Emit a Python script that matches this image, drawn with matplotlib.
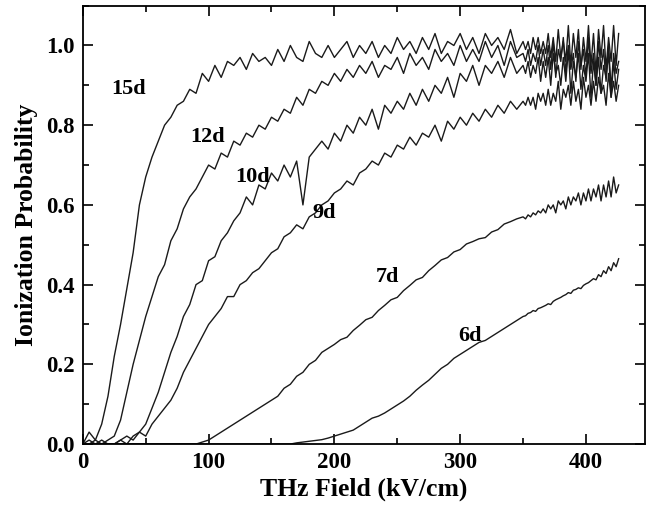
import numpy as np
import matplotlib
matplotlib.use('Agg')
import matplotlib.pyplot as plt
from matplotlib.ticker import MultipleLocator, FormatStrFormatter

plt.rcParams['font.family'] = ['Liberation Serif', 'DejaVu Serif']
plt.rcParams['font.weight'] = 'bold'

# THz field (kV/cm): 5 kV/cm steps up to 345, then 2 kV/cm steps (noisy tail)
field_main = np.arange(0, 350, 5)
field_tail = np.arange(350, 428, 2)

# ionization probability
p15_main = [0.00, 0.03, 0.01, 0.05, 0.12, 0.22, 0.30, 0.39, 0.48, 0.60,
            0.67, 0.72, 0.76, 0.80, 0.82, 0.85, 0.86, 0.89, 0.88, 0.93,
            0.91, 0.95, 0.92, 0.96, 0.95, 0.97, 0.94, 0.98, 0.96, 0.97,
            0.95, 0.99, 0.96, 1.00, 0.97, 0.96, 1.01, 0.98, 0.97, 1.00,
            0.97, 0.99, 1.01, 0.97, 1.00, 0.98, 1.01, 0.97, 1.00, 0.98,
            1.02, 0.99, 1.01, 0.98, 1.02, 0.99, 1.03, 0.98, 1.01, 1.00,
            1.03, 0.99, 1.02, 0.98, 1.03, 1.00, 1.02, 0.99, 1.04, 0.98]
p15_tail = [1.01, 0.99, 1.01, 0.98, 1.02, 0.99, 1.02, 0.98, 1.01, 0.98,
            1.03, 0.97, 1.02, 0.96, 1.04, 0.97, 1.01, 0.96, 1.05, 0.95,
            1.03, 0.97, 1.04, 0.94, 1.02, 0.96, 1.05, 0.95, 1.03, 0.93,
            1.04, 0.97, 1.05, 0.94, 1.02, 0.96, 1.05, 0.95, 1.03]

p12_main = [0.00, 0.01, 0.00, 0.00, 0.01, 0.02, 0.06, 0.13, 0.20, 0.26,
            0.32, 0.37, 0.42, 0.45, 0.51, 0.54, 0.59, 0.62, 0.64, 0.67,
            0.70, 0.69, 0.73, 0.72, 0.76, 0.75, 0.78, 0.77, 0.80, 0.79,
            0.82, 0.81, 0.84, 0.83, 0.87, 0.85, 0.89, 0.88, 0.91, 0.90,
            0.93, 0.91, 0.94, 0.92, 0.95, 0.93, 0.96, 0.92, 0.95, 0.94,
            0.97, 0.93, 0.98, 0.95, 0.97, 0.94, 0.99, 0.96, 0.98, 0.95,
            1.00, 0.96, 0.99, 0.96, 1.01, 0.97, 1.00, 0.95, 1.01, 0.97]
p12_tail = [0.98, 0.96, 0.99, 0.95, 0.98, 0.96, 1.00, 0.95, 0.99, 0.95,
            1.00, 0.94, 1.01, 0.92, 0.99, 0.96, 1.02, 0.93, 1.00, 0.94,
            0.98, 0.91, 1.01, 0.95, 0.99, 0.92, 1.02, 0.93, 0.98, 0.90,
            1.01, 0.94, 0.99, 0.91, 1.00, 0.89, 0.98, 0.93, 0.96]

p10_main = [0.00, 0.00, 0.01, 0.00, 0.00, 0.00, 0.01, 0.00, 0.02, 0.03,
            0.05, 0.09, 0.13, 0.18, 0.23, 0.27, 0.32, 0.35, 0.40, 0.41,
            0.46, 0.47, 0.51, 0.53, 0.56, 0.58, 0.62, 0.60, 0.65, 0.64,
            0.68, 0.66, 0.70, 0.67, 0.71, 0.60, 0.72, 0.74, 0.76, 0.74,
            0.78, 0.76, 0.80, 0.78, 0.82, 0.80, 0.84, 0.79, 0.85, 0.83,
            0.86, 0.84, 0.88, 0.85, 0.89, 0.86, 0.90, 0.88, 0.92, 0.87,
            0.93, 0.91, 0.95, 0.90, 0.95, 0.93, 0.96, 0.92, 0.97, 0.93]
p10_tail = [0.95, 0.93, 0.96, 0.92, 0.95, 0.93, 0.97, 0.91, 0.96, 0.92,
            0.97, 0.90, 0.98, 0.93, 0.95, 0.90, 0.97, 0.91, 0.99, 0.88,
            0.96, 0.92, 0.98, 0.89, 0.95, 0.91, 0.98, 0.87, 0.96, 0.90,
            0.97, 0.88, 0.95, 0.92, 0.98, 0.87, 0.96, 0.89, 0.94]

p9_main = [0.00, 0.00, 0.00, 0.01, 0.00, 0.00, 0.01, 0.02, 0.01, 0.03,
           0.02, 0.05, 0.07, 0.09, 0.11, 0.14, 0.18, 0.21, 0.24, 0.27,
           0.30, 0.32, 0.34, 0.37, 0.37, 0.40, 0.41, 0.43, 0.44, 0.46,
           0.48, 0.49, 0.52, 0.53, 0.55, 0.54, 0.57, 0.58, 0.60, 0.61,
           0.63, 0.64, 0.66, 0.65, 0.68, 0.69, 0.71, 0.70, 0.73, 0.72,
           0.75, 0.74, 0.77, 0.75, 0.78, 0.77, 0.80, 0.76, 0.81, 0.79,
           0.82, 0.80, 0.83, 0.81, 0.84, 0.82, 0.85, 0.83, 0.86, 0.84]
p9_tail = [0.86, 0.85, 0.87, 0.85, 0.87, 0.84, 0.88, 0.86, 0.88, 0.85,
           0.89, 0.85, 0.88, 0.86, 0.91, 0.84, 0.89, 0.87, 0.90, 0.85,
           0.91, 0.86, 0.89, 0.84, 0.92, 0.87, 0.90, 0.85, 0.91, 0.86,
           0.92, 0.88, 0.90, 0.85, 0.93, 0.87, 0.91, 0.86, 0.90]

p7_main = [0.000] * 19 + [
           0.005,
           0.010, 0.020, 0.030, 0.040, 0.050, 0.060, 0.070, 0.080, 0.090, 0.100,
           0.110, 0.120, 0.140, 0.150, 0.170, 0.180, 0.200, 0.210, 0.230, 0.240,
           0.250, 0.262, 0.268, 0.285, 0.298, 0.312, 0.318, 0.335, 0.348, 0.362,
           0.368, 0.385, 0.398, 0.412, 0.418, 0.435, 0.448, 0.462, 0.468, 0.482,
           0.488, 0.502, 0.508, 0.515, 0.518, 0.532, 0.538, 0.552, 0.558, 0.565]
p7_tail = [0.57, 0.565, 0.575, 0.57, 0.58, 0.575, 0.585, 0.58, 0.59, 0.58,
           0.60, 0.59, 0.60, 0.58, 0.61, 0.60, 0.61, 0.59, 0.62, 0.60,
           0.62, 0.61, 0.63, 0.60, 0.63, 0.61, 0.64, 0.61, 0.64, 0.62,
           0.65, 0.61, 0.65, 0.62, 0.66, 0.62, 0.67, 0.63, 0.65]

p6_main = [0.000] * 34 + [
           0.003, 0.005, 0.007, 0.009, 0.011, 0.015, 0.020, 0.025, 0.030, 0.035,
           0.045, 0.055, 0.065, 0.070, 0.078, 0.088, 0.098, 0.108, 0.120, 0.135,
           0.148, 0.160, 0.175, 0.190, 0.200, 0.215, 0.225, 0.235, 0.245, 0.255,
           0.260, 0.270, 0.280, 0.290, 0.300, 0.310]
p6_tail = [0.320, 0.322, 0.328, 0.330, 0.335, 0.333, 0.340, 0.342, 0.345, 0.348,
           0.352, 0.350, 0.358, 0.362, 0.365, 0.368, 0.372, 0.375, 0.380, 0.378,
           0.386, 0.388, 0.392, 0.390, 0.398, 0.402, 0.405, 0.410, 0.415, 0.412,
           0.425, 0.420, 0.435, 0.428, 0.445, 0.435, 0.455, 0.445, 0.465]

states = ['15d', '12d', '10d', '9d', '7d', '6d']
curves = [(p15_main, p15_tail), (p12_main, p12_tail), (p10_main, p10_tail),
          (p9_main, p9_tail), (p7_main, p7_tail), (p6_main, p6_tail)]
label_x = [36, 99, 135, 192, 242, 308]
label_y = [0.89, 0.77, 0.67, 0.58, 0.42, 0.27]

fig = plt.figure(figsize=(6.47, 5.11), dpi=100)
ax = fig.add_axes([0.128, 0.131, 0.869, 0.858])

field = np.concatenate([field_main, field_tail])
for main, tail in curves:
    ax.plot(field, list(main) + list(tail), color='#1a1a1a', lw=1.0)

for lab, xl, yl in zip(states, label_x, label_y):
    ax.text(xl, yl, lab, fontsize=16, fontweight='bold', ha='center', va='center')

ax.set_xlim(0, 447)
ax.set_ylim(0, 1.1)
ax.xaxis.set_major_locator(MultipleLocator(100))
ax.xaxis.set_minor_locator(MultipleLocator(50))
ax.yaxis.set_major_locator(MultipleLocator(0.2))
ax.yaxis.set_minor_locator(MultipleLocator(0.1))
ax.yaxis.set_major_formatter(FormatStrFormatter('%.1f'))

ax.tick_params(which='both', direction='in', top=True, right=True, width=1.2)
ax.tick_params(which='major', length=7, labelsize=16.5, pad=6)
ax.tick_params(which='minor', length=4)
for s in ax.spines.values():
    s.set_linewidth(1.3)

ax.set_xlabel('THz Field (kV/cm)', fontsize=18.5, fontweight='bold', labelpad=3)
ax.set_ylabel('Ionization Probability', fontsize=18.5, fontweight='bold', labelpad=6)

fig.savefig('out.png', dpi=100)
